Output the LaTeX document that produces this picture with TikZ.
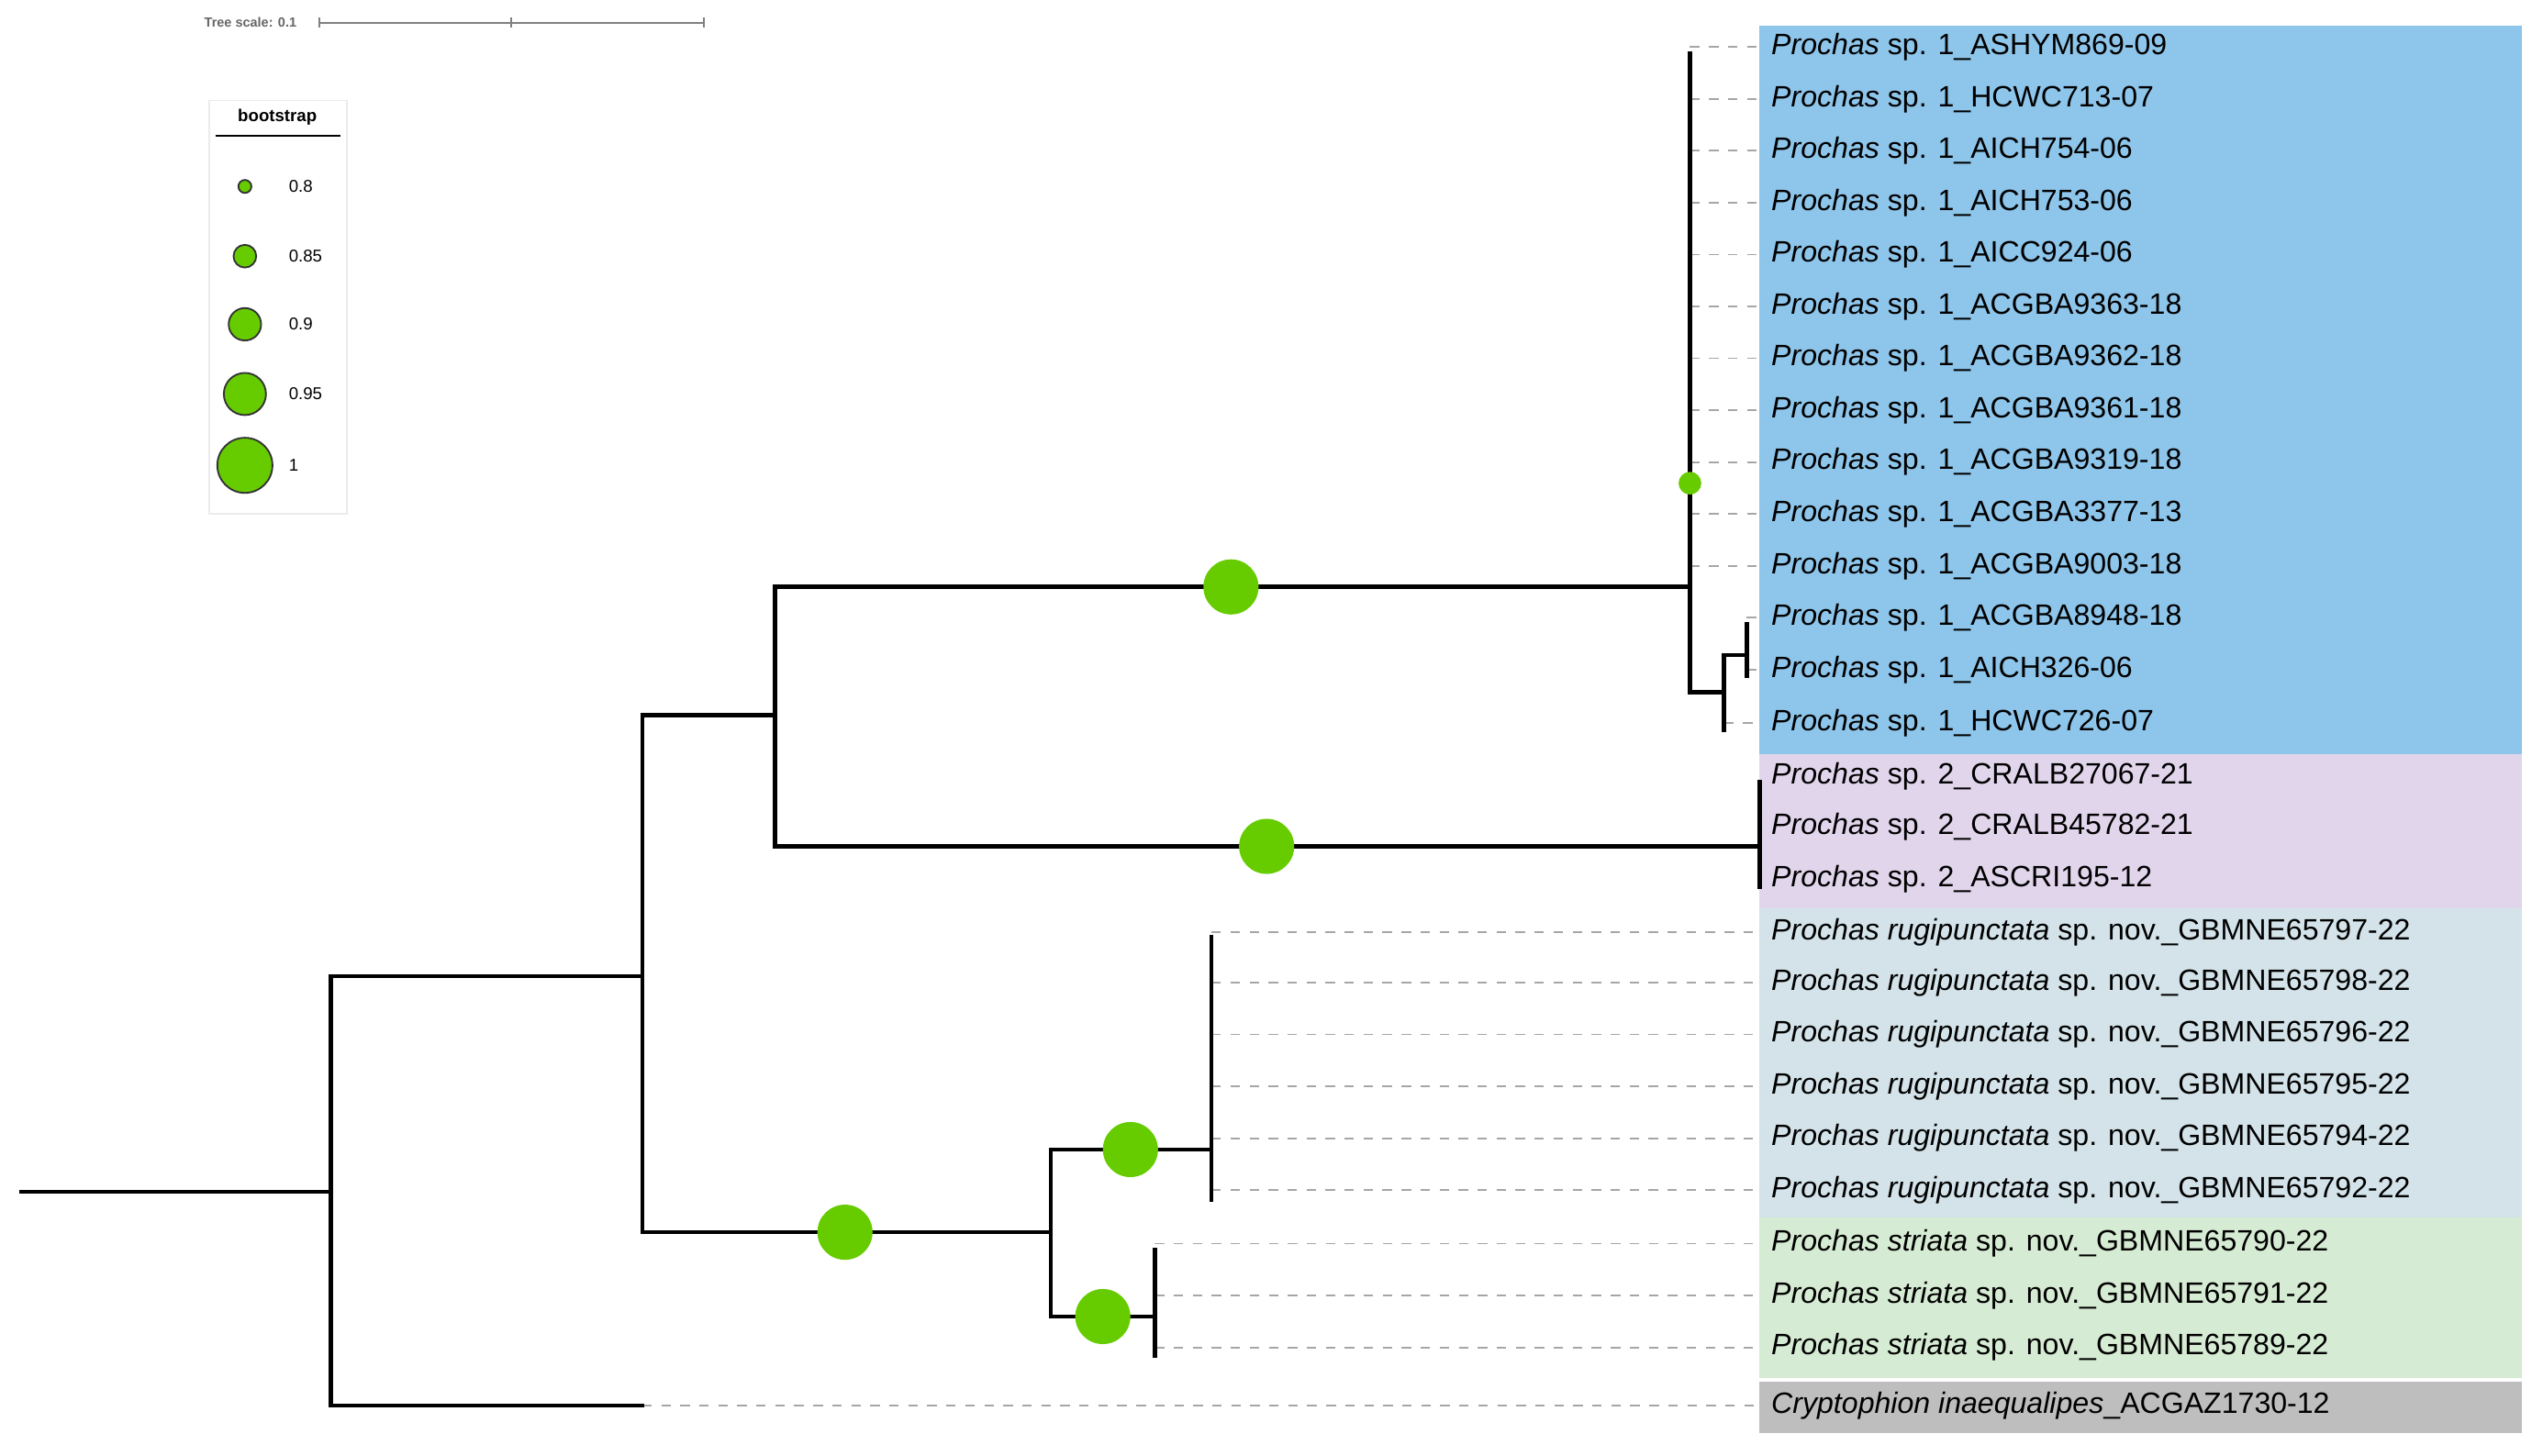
\documentclass[tikz,border=0pt]{standalone}
\usepackage{fontspec}
\setmainfont{Liberation Sans}
\usetikzlibrary{positioning}
\definecolor{cladeA}{HTML}{8EC5EA}
\definecolor{cladeB}{HTML}{E1D5EC}
\definecolor{cladeC}{HTML}{D3E3E9}
\definecolor{cladeD}{HTML}{D6EBD3}
\definecolor{cladeE}{HTML}{BEBEBE}
\definecolor{boot}{HTML}{66CC00}
\tikzset{
  branch/.style={line width=2.2pt, line cap=rect},
  guide/.style={gray!70, dashed, dash pattern=on 5pt off 5pt, line width=0.9pt},
  leaf/.style={anchor=west, inner sep=0pt, font=\fontsize{15.5}{18}\selectfont},
  bs/.style={circle, fill=boot, inner sep=0pt, minimum size=#1},
  key/.style={circle, draw=black!80, fill=boot, line width=0.9pt, inner sep=0pt, minimum size=#1},
}
\begin{document}
\begin{tikzpicture}[x=0.03cm, y=-0.03cm]
		\useasboundingbox (0,0) rectangle (1568,898);
		% clade backgrounds
		\fill[cladeA] (1085,16) rectangle (1555,465);
		\fill[cladeB] (1085,465) rectangle (1555,560);
		\fill[cladeC] (1085,560) rectangle (1555,751);
		\fill[cladeD] (1085,751) rectangle (1555,850);
		\fill[cladeE] (1085,852) rectangle (1555,884);
		
		% tree scale
		\node[anchor=east, gray!80!black, font=\fontsize{7}{8}\selectfont\bfseries] (scale) at (187,14) {Tree scale: 0.1};
		\draw[gray, line width=0.9pt] (197,14) -- (434,14);
		\foreach \x in {197, 315, 434} \draw[gray, line width=0.9pt] (\x,11) -- (\x,17);
		
		% legend
		\draw[black!8, line width=0.8pt] (129,62) rectangle (214,317);
		\node[font=\fontsize{9}{10}\selectfont\bfseries] (bstitle) at (171,72) {bootstrap};
		\draw[line width=1pt] (133,84) -- (210,84);
		\foreach \y/\s/\v in {115/8/0.8, 158/14/0.85, 200/20/0.9, 243/26/0.95, 287/34/1} {
			\node[key=\s*0.03cm] (k\y) at (151,\y) {};
			\node[anchor=west, font=\fontsize{9}{10}\selectfont] at (174,\y) {\v};
		}
		
		% internal nodes
		\coordinate (root) at (13,735);
		\coordinate (n1) at (204,735);
		\coordinate (n2) at (396,602);
		\coordinate (n3) at (478,441);
		\coordinate (n4) at (1042,362);
		\coordinate (n5) at (1085,522);
		\coordinate (n6) at (648,760);
		\coordinate (n7) at (747,709);
		\coordinate (n8) at (712,812);
		\coordinate (n9) at (1063,427);
		\coordinate (n10) at (1077,404);
		
		% leaves
		\foreach \i/\y/\t in {1/29/ASHYM869-09, 2/61/HCWC713-07, 3/93/AICH754-06, 4/125/AICH753-06,
			5/157/AICC924-06, 6/189/ACGBA9363-18, 7/221/ACGBA9362-18, 8/253/ACGBA9361-18,
			9/285/ACGBA9319-18, 10/317/ACGBA3377-13, 11/349/ACGBA9003-18} {
			\node[leaf] (a\i) at (1092,\y) {\textit{Prochas} sp. 1\_\t};
			\draw[guide] (1042,\y) -- (a\i.west -| 1085,0);
		}
		\node[leaf] (a12) at (1092,381) {\textit{Prochas} sp. 1\_ACGBA8948-18};
		\node[leaf] (a13) at (1092,413) {\textit{Prochas} sp. 1\_AICH326-06};
		\node[leaf] (a14) at (1092,446) {\textit{Prochas} sp. 1\_HCWC726-07};
		\foreach \i/\y/\t in {1/479/CRALB27067-21, 2/510/CRALB45782-21, 3/542/ASCRI195-12}
			\node[leaf] (b\i) at (1092,\y) {\textit{Prochas} sp. 2\_\t};
		\foreach \i/\y/\t in {1/575/65797, 2/606/65798, 3/638/65796, 4/670/65795, 5/702/65794, 6/734/65792} {
			\node[leaf] (c\i) at (1092,\y) {\textit{Prochas rugipunctata} sp. nov.\_GBMNE\t-22};
			\draw[guide] (747,\y) -- (1085,\y);
		}
		\foreach \i/\y/\t in {1/767/65790, 2/799/65791, 3/831/65789} {
			\node[leaf] (d\i) at (1092,\y) {\textit{Prochas striata} sp. nov.\_GBMNE\t-22};
			\draw[guide] (712,\y) -- (1085,\y);
		}
		\node[leaf] (e1) at (1092,867) {\textit{Cryptophion inaequalipes}\_ACGAZ1730-12};
		\draw[guide] (1077,381) -- (1085,381);
		\draw[guide] (1077,413) -- (1085,413);
		\draw[guide] (1063,446) -- (1085,446);
		\draw[guide] (396,867) -- (1085,867);
		
		% branches
		\draw[branch] (root) -- (n1);
		\draw[branch] (n1 |- n2) -- (n1 |- e1) -- (396,867);
		\draw[branch] (n1 |- n2) -- (n2);
		\draw[branch] (n2 |- n3) -- (n2 |- n6);
		\draw[branch] (n2 |- n3) -- (n3);
		\draw[branch] (n3 |- n4) -- (n3 |- n5);
		\draw[branch] (n3 |- n4) -- (n4);
		\draw[branch] (n3 |- n5) -- (n5);
		\draw[branch] (n2 |- n6) -- (n6);
		\draw[branch] (1042,33) -- (n4 |- n9) -- (n9);
		\draw[branch] (n9 |- n10) -- (1063,450);
		\draw[branch] (n9 |- n10) -- (n10);
		\draw[branch] (1077,385) -- (1077,417);
		\draw[branch] (1085,482) -- (1085,547);
		\draw[branch] (n6 |- n7) -- (n6 |- n8);
		\draw[branch] (n6 |- n7) -- (n7);
		\draw[branch] (n6 |- n8) -- (n8);
		\draw[branch] (747,578) -- (747,740);
		\draw[branch] (712,771) -- (712,836);
		
		% bootstrap support
		\node[bs=34*0.03cm] (s1) at (759,362) {};
		\node[bs=34*0.03cm] (s2) at (781,522) {};
		\node[bs=34*0.03cm] (s3) at (521,760) {};
		\node[bs=34*0.03cm] (s4) at (697,709) {};
		\node[bs=34*0.03cm] (s5) at (680,812) {};
		\node[bs=14*0.03cm] (s6) at (1042,298) {};
\end{tikzpicture}
\end{document}
